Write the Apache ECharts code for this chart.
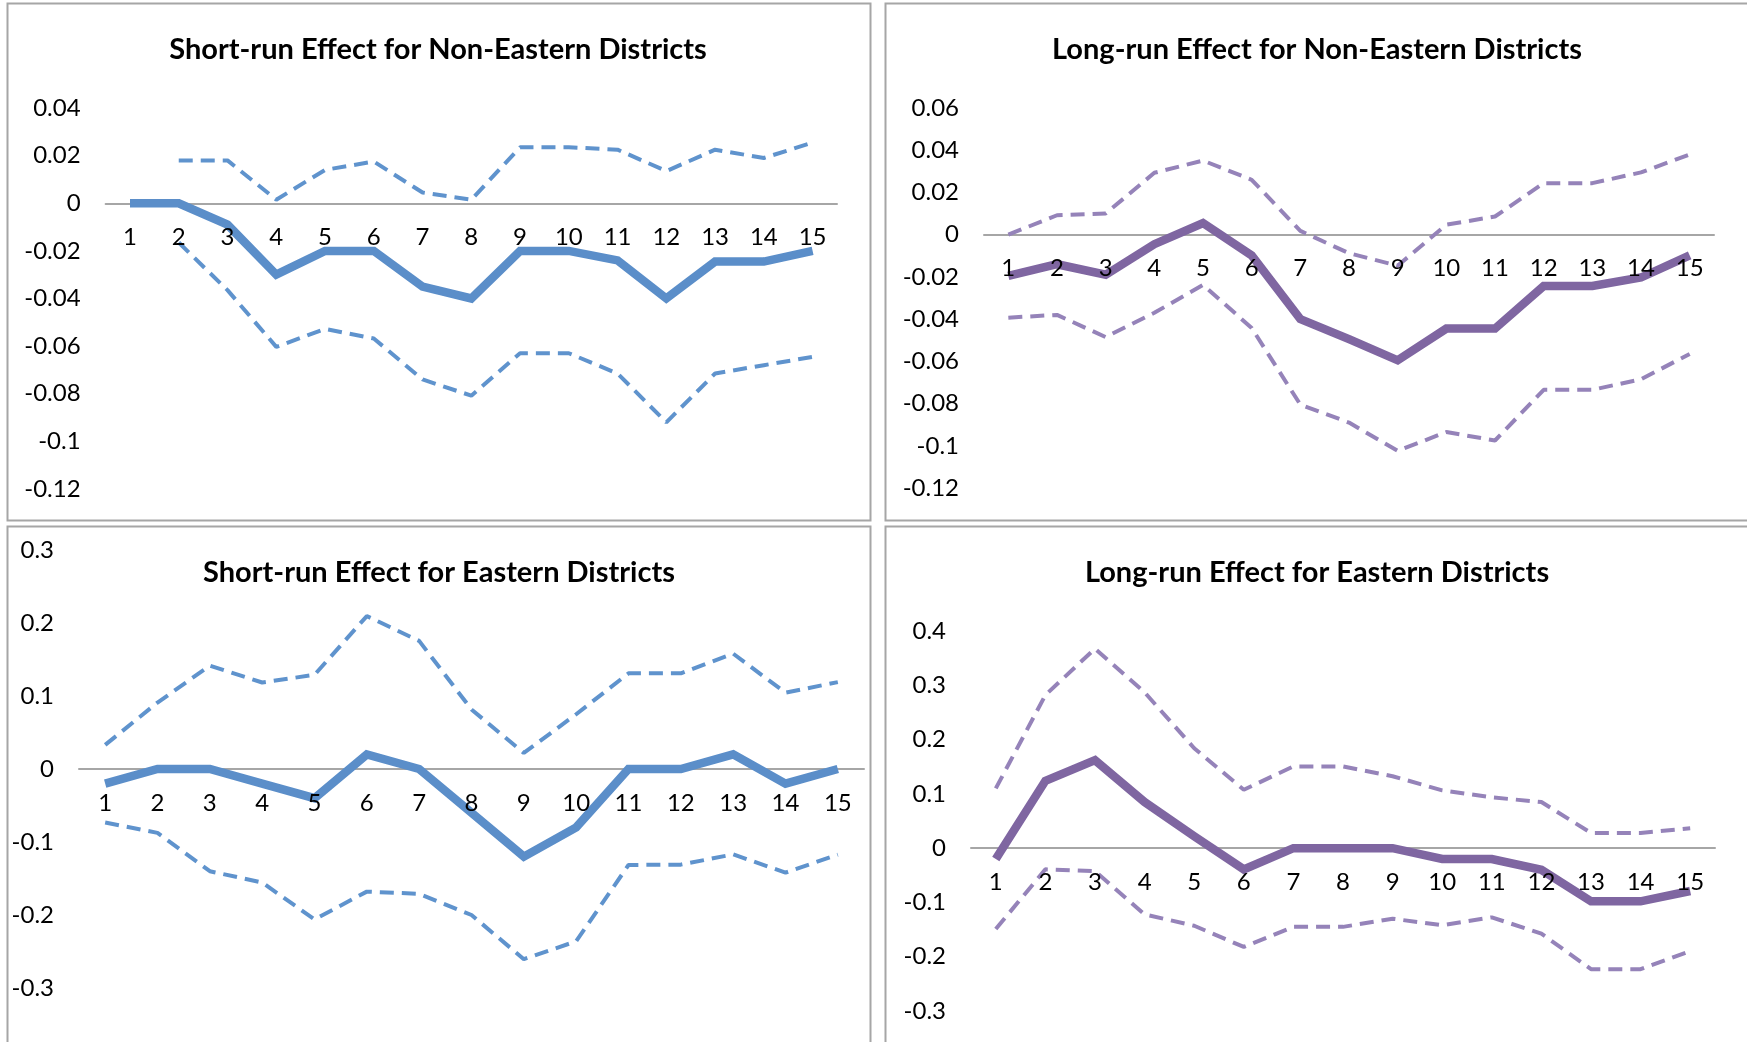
<!DOCTYPE html>
<html>
<head>
<meta charset="utf-8">
<script src="https://cdn.jsdelivr.net/npm/echarts@6/dist/echarts.min.js"></script>
<style>
html,body{margin:0;padding:0;background:#fff;}
#c{width:1747px;height:1042px;}
</style>
</head>
<body>
<div id="c"></div>
<script>
// ---- data ----
const categories = ['1','2','3','4','5','6','7','8','9','10','11','12','13','14','15'];

const titles = [
  'Short-run Effect for Non-Eastern Districts',
  'Long-run Effect for Non-Eastern Districts',
  'Short-run Effect for Eastern Districts',
  'Long-run Effect for Eastern Districts'
];

// Panel 1: Short-run, Non-Eastern
const srNonEastEffect = [0, 0, -0.009, -0.03, -0.02, -0.02, -0.035, -0.04, -0.02, -0.02, -0.024, -0.04, -0.0245, -0.0245, -0.02];
const srNonEastUpper  = [null, 0.018, 0.018, 0.0015, 0.014, 0.0175, 0.0045, 0.0015, 0.0235, 0.0235, 0.0225, 0.0135, 0.0225, 0.019, 0.0255];
const srNonEastLower  = [null, -0.0165, -0.0365, -0.0603, -0.0528, -0.0568, -0.074, -0.0808, -0.063, -0.063, -0.0715, -0.092, -0.0715, -0.068, -0.0645];

// Panel 2: Long-run, Non-Eastern
const lrNonEastEffect = [-0.0195, -0.014, -0.019, -0.0045, 0.0055, -0.0098, -0.04, -0.0495, -0.0595, -0.0445, -0.0445, -0.0243, -0.0243, -0.0203, -0.0098];
const lrNonEastUpper  = [0, 0.0092, 0.01, 0.0293, 0.0351, 0.026, 0.0018, -0.0088, -0.0147, 0.0047, 0.0086, 0.0244, 0.0244, 0.0295, 0.038];
const lrNonEastLower  = [-0.0393, -0.038, -0.0485, -0.037, -0.0238, -0.0442, -0.0805, -0.089, -0.1024, -0.0935, -0.0975, -0.0735, -0.0735, -0.0685, -0.0565];

// Panel 3: Short-run, Eastern
const srEastEffect = [-0.02, 0, 0, -0.02, -0.04, 0.02, 0, -0.06, -0.12, -0.08, 0, 0, 0.02, -0.02, 0];
const srEastUpper  = [0.033, 0.091, 0.1415, 0.1185, 0.129, 0.2095, 0.1755, 0.0815, 0.022, 0.075, 0.131, 0.131, 0.158, 0.1045, 0.119];
const srEastLower  = [-0.0733, -0.0875, -0.14, -0.1555, -0.206, -0.168, -0.171, -0.2, -0.2605, -0.236, -0.1315, -0.131, -0.117, -0.142, -0.1173];

// Panel 4: Long-run, Eastern
const lrEastEffect = [-0.02, 0.124, 0.162, 0.085, 0.022, -0.039, 0, 0, 0, -0.02, -0.02, -0.04, -0.098, -0.098, -0.079];
const lrEastUpper  = [0.11, 0.282, 0.3675, 0.287, 0.184, 0.1075, 0.1505, 0.1505, 0.1325, 0.1065, 0.0935, 0.085, 0.028, 0.028, 0.0365];
const lrEastLower  = [-0.149, -0.039, -0.0425, -0.122, -0.143, -0.182, -0.145, -0.145, -0.13, -0.142, -0.1275, -0.1575, -0.223, -0.223, -0.1895];

// y-axis scales (min, max, interval)
const yScales = [
  [-0.12, 0.04, 0.02],
  [-0.12, 0.06, 0.02],
  [-0.3, 0.3, 0.1],
  [-0.3, 0.4, 0.1]
];

// ---- layout / style ----
const BLUE = '#5B8EC9', BLUE_D = '#5F93CD';
const PURPLE = '#7F66A1', PURPLE_D = '#9583B9';
const panels = [
  {grid:{left:105.6, top:108, width:731.4, height:381}, title:[438, 50], data:[srNonEastEffect, srNonEastUpper, srNonEastLower], c:BLUE, cd:BLUE_D},
  {grid:{left:984, top:108, width:730, height:380}, title:[1317, 50], data:[lrNonEastEffect, lrNonEastUpper, lrNonEastLower], c:PURPLE, cd:PURPLE_D},
  {grid:{left:79, top:550, width:785, height:438}, title:[439, 573], data:[srEastEffect, srEastUpper, srEastLower], c:BLUE, cd:BLUE_D},
  {grid:{left:971, top:631, width:744, height:380}, title:[1317, 573], data:[lrEastEffect, lrEastUpper, lrEastLower], c:PURPLE, cd:PURPLE_D}
];

const FONT = 'Lato, "Noto Sans", sans-serif';
const option = {
  animation:false,
  backgroundColor:'#fff',
  title:[], grid:[], xAxis:[], yAxis:[], series:[],
  graphic:[
    {type:'rect', shape:{x:7.5, y:3.5, width:863, height:517}, style:{fill:'none', stroke:'#A6A6A6', lineWidth:2}},
    {type:'rect', shape:{x:885.5, y:3.5, width:900, height:517}, style:{fill:'none', stroke:'#A6A6A6', lineWidth:2}},
    {type:'rect', shape:{x:7.5, y:526.5, width:863, height:600}, style:{fill:'none', stroke:'#A6A6A6', lineWidth:2}},
    {type:'rect', shape:{x:885.5, y:526.5, width:900, height:600}, style:{fill:'none', stroke:'#A6A6A6', lineWidth:2}}
  ]
};

panels.forEach((p, i) => {
  const s = yScales[i];
  // distance from grid bottom to the zero value, so the category axis sits on y = 0
  const zeroOffset = p.grid.height * (0 - s[0]) / (s[1] - s[0]);
  option.title.push({
    text: titles[i], left: p.title[0], top: p.title[1], padding:0,
    textAlign:'center', textVerticalAlign:'middle',
    textStyle:{fontFamily:FONT, fontWeight:'bold', fontSize:29, color:'#000'}
  });
  option.grid.push(Object.assign({containLabel:false}, p.grid));
  // axis line (below the series)
  option.xAxis.push({
    type:'category', gridIndex:i, data:categories, boundaryGap:true, position:'bottom',
    offset: -zeroOffset, z:0,
    axisLine:{onZero:false, lineStyle:{color:'#A6A6A6', width:2}},
    axisTick:{show:false}, axisLabel:{show:false}, splitLine:{show:false}
  });
  // category labels (drawn above the series, as in the reference)
  option.xAxis.push({
    type:'category', gridIndex:i, data:categories, boundaryGap:true, position:'bottom',
    offset: -zeroOffset, z:10,
    axisLine:{show:false, onZero:false}, axisTick:{show:false}, splitLine:{show:false},
    axisLabel:{margin:22, fontFamily:FONT, fontSize:24, color:'#000', interval:0}
  });
  option.yAxis.push({
    type:'value', gridIndex:i, min:s[0], max:s[1], interval:s[2],
    axisLine:{show:false}, axisTick:{show:false}, splitLine:{show:false},
    axisLabel:{margin:25, fontFamily:FONT, fontSize:24, color:'#000',
      formatter: v => String(+v.toFixed(4))}
  });
  const xi = 2 * i;
  option.series.push({
    type:'line', xAxisIndex:xi, yAxisIndex:i, data:p.data[1], symbol:'none',
    lineStyle:{color:p.cd, width:4, type:[14,8]}, z:3
  });
  option.series.push({
    type:'line', xAxisIndex:xi, yAxisIndex:i, data:p.data[2], symbol:'none',
    lineStyle:{color:p.cd, width:4, type:[14,8]}, z:3
  });
  option.series.push({
    type:'line', xAxisIndex:xi, yAxisIndex:i, data:p.data[0], symbol:'none',
    lineStyle:{color:p.c, width:8.5, join:'miter'}, z:4
  });
});

const chart = echarts.init(document.getElementById('c'), null, {renderer:'canvas'});
chart.setOption(option);
</script>
</body>
</html>
